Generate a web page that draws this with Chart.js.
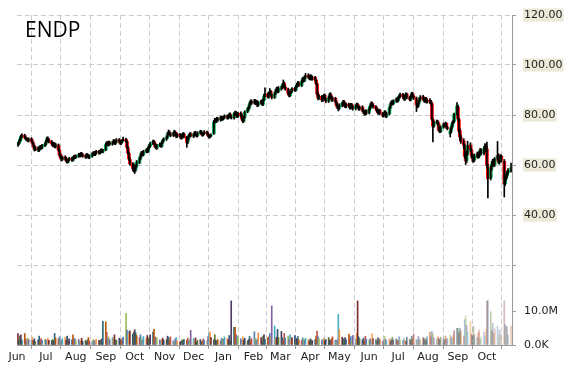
<!DOCTYPE html>
<html>
<head>
<meta charset="utf-8">
<title>ENDP</title>
<script src="https://cdn.jsdelivr.net/npm/chart.js@4.4.1/dist/chart.umd.min.js"></script>
<style>
    html, body { margin: 0; padding: 0; background: #fff; }
    #wrap { position: relative; width: 570px; height: 370px; }
    #title { position: absolute; left: 25px; top: 19px; font: 21px/21px "Open Sans", sans-serif; color: #000; }
</style>
</head>
<body>
<div id="wrap">
    <canvas id="chart" width="570" height="370"></canvas>
    <div id="title">ENDP</div>
</div>
<script>
// first and last trading day shown, and the ends of the time axis
const firstDay = Date.UTC(2014, 5, 2);
const lastDay = Date.UTC(2015, 9, 26);
const axisStart = Date.UTC(2014, 5, 1);
const axisEnd = Date.UTC(2015, 9, 27);

const monthLabels = ['Jun', 'Jul', 'Aug', 'Sep', 'Oct', 'Nov', 'Dec', 'Jan', 'Feb', 'Mar',
    'Apr', 'May', 'Jun', 'Jul', 'Aug', 'Sep', 'Oct'];
const priceTicks = [20, 40, 60, 80, 100, 120];
const volumeTicks = [0, 10];

const open = [
    68.0, 68.5, 69.4, 70.2, 71.6, 71.9, 70.8, 70.6, 70.3, 69.7, 70.5, 69.6, 68.6, 67.5, 66.1, 66.9, 65.8, 66.6, 67.4, 66.8, 67.7,
    68.4, 69.5, 70.7, 70.0, 69.3, 68.6, 67.7, 68.5, 67.2, 68.0, 65.9, 64.2, 63.1, 62.1, 63.2, 62.6, 61.9, 61.1, 62.1, 62.7, 61.8, 62.7, 63.5,
    63.1, 63.5, 64.3, 63.7, 64.6, 64.1, 63.6, 63.1, 64.2, 63.8, 62.9, 63.5, 64.3, 64.9, 64.1, 64.8, 65.5, 64.7, 65.4, 66.1, 65.2,
    66.0, 68.3, 68.9, 68.0, 69.1, 68.3, 69.0, 69.7, 68.6, 69.3, 70.1, 69.3, 68.7, 69.2, 69.9, 70.3, 69.4, 66.8, 64.6, 62.2, 60.3, 58.4,
    59.2, 58.1, 59.6, 61.0, 62.6, 63.7, 65.0, 64.1, 65.4, 66.1, 65.4, 66.9, 67.5, 68.6, 69.4, 68.6, 67.3, 66.8, 67.9, 68.3, 67.5, 69.0, 69.9,
    70.4, 71.1, 72.5, 73.2, 72.4, 71.9, 72.7, 73.2, 72.1, 71.3, 72.3, 71.5, 70.9, 72.0, 72.4, 71.1, 69.1, 70.7, 71.9, 72.5,
    71.5, 72.1, 72.9, 72.1, 71.7, 72.9, 73.3, 72.6, 72.0, 72.7, 73.2, 72.4, 71.7, 71.3, 71.7, 72.6, 77.3, 78.1, 77.4, 78.7, 78.0, 79.1, 78.3,
    78.7, 79.1, 79.7, 78.9, 79.5, 80.3, 79.2, 78.8, 80.5, 81.1, 80.1, 79.4, 80.7, 79.7, 78.5, 77.5, 79.1, 81.3, 82.3, 83.2, 84.4, 85.5,
    84.9, 85.7, 84.6, 85.4, 83.9, 84.9, 85.6, 84.2, 86.0, 87.7, 88.5, 87.1, 88.7, 89.5, 87.9, 87.0, 88.6, 89.7, 90.5, 89.4,
    90.5, 91.0, 91.7, 92.7, 91.1, 90.3, 88.7, 87.7, 89.0, 89.6, 90.6, 89.9, 91.3, 92.0, 92.9, 91.8, 93.5, 94.6, 93.7, 95.2, 95.9, 95.1,
    94.5, 95.5, 94.4, 95.1, 94.0, 92.5, 88.3, 86.7, 87.5, 85.9, 87.0, 87.9, 86.3, 85.5, 87.0, 88.3, 87.2, 86.0, 86.7, 85.3, 84.1, 83.0,
    82.7, 83.9, 84.5, 85.3, 83.9, 83.3, 84.4, 83.6, 82.8, 84.2, 83.1, 82.5, 83.6, 84.3, 83.3, 82.4, 83.2, 81.9, 81.1, 80.5, 81.6,
    80.9, 82.5, 83.7, 84.7, 83.9, 83.3, 82.4, 81.5, 80.8, 81.9, 80.5, 79.7, 80.6, 81.1, 79.5, 80.5, 82.9, 84.3, 85.2, 84.5, 85.6, 86.3,
    85.7, 86.9, 87.4, 88.3, 87.2, 86.3, 87.7, 88.4, 86.9, 86.1, 87.5, 88.6, 87.5, 86.7, 84.1, 83.7, 85.2, 86.4, 87.3, 86.3, 85.6, 86.6, 85.2,
    85.9, 85.3, 84.5, 78.2, 75.6, 77.1, 77.4, 76.4, 74.1, 73.4, 75.1, 76.3, 75.7, 76.7, 75.0, 72.6, 73.5, 75.1, 76.7, 77.4, 80.4,
    83.2, 78.2, 73.8, 71.0, 69.6, 67.8, 63.7, 61.8, 64.6, 68.0, 66.0, 63.9, 62.5, 62.0, 63.5, 64.5, 63.4, 64.9, 66.0, 64.6, 66.7, 67.6,
    66.4, 59.2, 54.8, 58.7, 60.2, 61.8, 60.0, 62.6, 63.9, 61.0, 62.4, 63.5, 61.5, 52.6, 54.5, 55.6, 57.0, 57.6
];

const high = [
    69.1, 69.8, 70.9, 72.0, 72.5, 72.3, 71.3, 71.0, 70.7, 70.9, 70.9, 70.0, 68.9, 67.9, 67.4, 67.3, 67.2, 67.9, 67.8, 68.3, 68.9,
    69.9, 71.2, 71.3, 70.5, 69.8, 69.0, 69.1, 68.9, 68.6, 68.4, 66.5, 64.6, 63.5, 63.6, 63.7, 63.0, 62.3, 62.4, 63.1, 63.2, 63.3, 63.9, 64.0,
    64.1, 64.7, 64.6, 65.0, 65.1, 64.5, 64.0, 64.6, 64.6, 64.2, 63.9, 64.9, 65.3, 65.4, 65.4, 65.9, 65.9, 65.9, 66.5, 66.5, 66.3,
    68.8, 69.4, 69.3, 69.6, 69.5, 69.4, 70.2, 70.1, 69.8, 70.6, 70.6, 69.8, 69.6, 70.3, 71.2, 70.8, 69.8, 67.5, 65.2, 62.9, 61.0, 60.6,
    59.6, 60.0, 61.8, 63.2, 64.5, 65.5, 65.4, 65.9, 66.5, 66.6, 67.4, 68.2, 69.2, 70.0, 69.9, 68.9, 67.7, 68.3, 68.8, 68.7, 69.4, 70.4, 70.9,
    71.6, 73.0, 74.0, 73.7, 72.9, 73.1, 73.9, 73.6, 72.5, 72.8, 72.7, 72.0, 72.4, 73.0, 72.9, 71.5, 71.1, 72.3, 72.9, 73.0,
    72.6, 73.4, 73.5, 72.6, 73.3, 73.9, 73.8, 73.1, 73.0, 73.8, 73.6, 72.9, 72.2, 72.1, 72.5, 77.8, 78.7, 78.5, 79.1, 79.0, 79.6, 79.5, 79.4,
    79.6, 80.1, 80.0, 79.9, 80.8, 80.8, 79.7, 80.9, 81.6, 81.5, 80.6, 81.1, 81.3, 80.2, 78.9, 79.5, 81.7, 82.9, 83.7, 85.0, 86.0, 86.1,
    86.3, 86.2, 85.9, 85.8, 85.3, 86.0, 86.1, 86.5, 88.3, 90.9, 88.9, 89.2, 90.6, 89.9, 88.4, 89.0, 90.3, 91.1, 91.2, 91.4,
    91.5, 92.4, 94.0, 93.2, 91.8, 90.8, 89.4, 89.5, 90.3, 91.0, 91.1, 91.8, 92.6, 93.4, 93.3, 94.0, 95.1, 95.0, 95.7, 96.7, 96.5, 95.6,
    96.2, 96.0, 95.6, 95.5, 94.4, 92.8, 89.0, 88.0, 87.9, 87.4, 88.4, 88.4, 86.8, 87.5, 88.8, 88.9, 87.7, 87.2, 87.1, 85.9, 84.6, 83.6,
    84.5, 85.1, 85.9, 85.8, 84.6, 84.9, 84.8, 84.1, 84.7, 84.6, 83.7, 84.0, 84.8, 84.7, 83.8, 83.6, 83.7, 82.5, 81.6, 82.0, 82.1,
    83.0, 84.2, 85.3, 85.2, 84.4, 83.8, 82.9, 82.0, 82.4, 82.3, 81.0, 81.0, 81.8, 81.6, 80.9, 83.4, 84.8, 85.7, 85.8, 86.1, 86.8, 86.9,
    87.4, 88.1, 88.8, 88.7, 87.7, 88.2, 88.9, 88.8, 87.4, 88.0, 89.1, 89.0, 88.0, 87.2, 84.6, 85.7, 86.9, 87.8, 87.9, 86.8, 87.0, 87.1, 86.4,
    86.6, 85.9, 85.0, 78.6, 77.6, 78.0, 77.9, 76.8, 74.9, 75.6, 76.8, 76.7, 77.2, 76.9, 75.5, 74.4, 75.7, 77.3, 77.9, 80.8, 85.0,
    84.0, 78.9, 74.5, 71.9, 70.5, 68.4, 64.6, 65.6, 69.5, 68.9, 66.6, 64.5, 63.3, 64.4, 65.2, 65.0, 65.6, 66.7, 66.5, 67.4, 68.6, 68.2,
    69.2, 60.4, 59.6, 61.5, 62.3, 62.4, 63.0, 69.4, 64.5, 63.3, 64.2, 64.0, 62.2, 55.8, 56.8, 57.6, 58.6, 60.8
];

const low = [
    67.4, 68.1, 69.0, 69.8, 71.0, 70.6, 70.0, 69.7, 69.3, 69.2, 69.1, 68.3, 67.0, 65.6, 65.7, 65.4, 65.4, 66.2, 66.3, 66.4, 67.3,
    68.0, 69.1, 69.6, 68.8, 68.1, 67.3, 67.3, 66.9, 66.8, 65.5, 63.6, 62.5, 61.6, 61.8, 62.0, 61.2, 60.7, 60.8, 61.7, 61.4, 61.5, 62.3, 62.5,
    62.6, 63.0, 63.3, 63.2, 63.6, 63.1, 62.7, 62.7, 63.3, 62.6, 62.5, 63.1, 63.9, 63.8, 63.7, 64.3, 64.3, 64.3, 65.0, 64.9, 64.8,
    65.7, 67.8, 67.6, 67.6, 67.9, 67.9, 68.6, 68.3, 68.1, 68.9, 69.0, 68.2, 68.2, 68.8, 69.6, 69.0, 66.5, 64.2, 61.8, 59.8, 57.6, 57.2,
    56.6, 57.4, 59.1, 60.5, 62.1, 63.2, 63.8, 63.6, 64.9, 64.9, 65.0, 66.4, 67.1, 68.1, 68.2, 67.0, 66.4, 66.2, 67.4, 67.1, 67.1, 68.5, 69.4,
    69.8, 70.6, 72.0, 72.0, 71.3, 71.4, 72.2, 71.6, 70.9, 71.0, 71.1, 70.3, 70.4, 71.5, 70.8, 67.1, 68.5, 70.2, 71.4, 71.2,
    70.9, 71.6, 71.8, 71.2, 71.2, 72.4, 72.3, 71.5, 71.6, 72.2, 72.1, 71.3, 70.7, 70.8, 71.2, 72.2, 76.8, 77.0, 77.0, 77.6, 77.5, 77.9, 77.8,
    78.1, 78.6, 78.3, 78.4, 79.0, 78.8, 78.4, 78.3, 80.0, 79.7, 78.9, 79.0, 79.3, 77.9, 76.9, 77.1, 78.7, 80.9, 81.8, 82.7, 84.0, 84.2,
    84.4, 84.2, 84.1, 83.3, 83.5, 84.4, 83.8, 83.7, 85.6, 87.3, 86.8, 86.7, 88.2, 87.6, 86.4, 86.6, 88.1, 89.2, 88.9, 88.9,
    89.9, 90.5, 91.2, 90.8, 89.9, 88.1, 87.2, 87.3, 88.5, 89.1, 89.4, 89.5, 90.8, 91.5, 91.4, 91.3, 93.0, 93.2, 93.3, 94.7, 94.8, 94.1,
    94.0, 94.0, 93.9, 93.6, 92.1, 87.9, 86.0, 86.2, 85.3, 85.4, 86.5, 85.9, 84.9, 85.0, 86.4, 86.7, 85.5, 85.4, 84.8, 83.5, 82.5, 81.6,
    82.2, 83.3, 84.0, 83.5, 82.9, 82.8, 83.1, 82.3, 82.3, 82.7, 81.9, 82.0, 83.1, 82.8, 81.9, 81.9, 81.4, 80.6, 79.9, 80.0, 80.1,
    80.4, 82.0, 83.2, 83.5, 82.7, 82.0, 81.1, 80.3, 80.2, 80.2, 79.2, 79.2, 80.1, 79.1, 78.9, 80.0, 82.4, 83.8, 84.1, 84.0, 85.1, 85.1,
    85.2, 86.4, 86.8, 86.7, 85.9, 85.8, 87.1, 86.5, 85.7, 85.6, 86.9, 87.0, 86.2, 81.4, 82.9, 83.1, 84.7, 85.9, 85.9, 85.1, 85.0, 84.8, 84.7,
    84.6, 84.0, 77.8, 69.2, 75.0, 76.5, 75.8, 73.5, 72.9, 73.0, 74.7, 75.2, 75.4, 74.6, 74.0, 71.2, 72.9, 74.6, 76.2, 76.9, 80.0,
    77.6, 72.8, 69.8, 68.6, 66.5, 62.6, 60.2, 61.0, 64.0, 65.5, 63.0, 61.4, 61.0, 61.4, 62.8, 62.7, 62.9, 64.2, 63.9, 64.0, 66.0, 65.1,
    58.6, 46.8, 54.0, 57.8, 59.5, 59.6, 59.4, 61.9, 60.6, 60.3, 61.6, 61.2, 47.2, 51.8, 54.0, 55.1, 56.3, 57.1
];

const close = [
    68.6, 69.3, 70.4, 71.5, 71.8, 71.0, 70.5, 70.2, 69.8, 70.4, 69.5, 68.7, 67.4, 66.2, 66.8, 65.9, 66.7, 67.3, 66.9, 67.8, 68.3,
    69.4, 70.6, 70.1, 69.2, 68.5, 67.8, 68.6, 67.3, 68.1, 66.0, 64.1, 63.0, 62.2, 63.1, 62.5, 61.8, 61.2, 62.0, 62.6, 61.9, 62.8, 63.4, 63.0,
    63.6, 64.2, 63.8, 64.5, 64.0, 63.5, 63.2, 64.1, 63.7, 63.0, 63.4, 64.4, 64.8, 64.2, 64.9, 65.4, 64.8, 65.5, 66.0, 65.3, 65.8,
    68.2, 68.8, 68.1, 69.0, 68.4, 68.9, 69.6, 68.7, 69.2, 70.0, 69.4, 68.6, 69.1, 69.8, 70.2, 69.5, 67.0, 64.8, 62.4, 60.5, 58.6, 59.4,
    58.0, 59.5, 61.2, 62.5, 63.8, 64.9, 64.2, 65.3, 66.0, 65.5, 66.8, 67.6, 68.5, 69.3, 68.7, 67.4, 66.9, 67.8, 68.2, 67.6, 68.9, 69.8, 70.3,
    71.0, 72.4, 73.1, 72.5, 71.8, 72.6, 73.3, 72.0, 71.4, 72.2, 71.6, 70.8, 71.9, 72.5, 71.2, 69.0, 70.6, 71.8, 72.4, 71.7,
    72.0, 72.8, 72.2, 71.6, 72.8, 73.4, 72.7, 71.9, 72.6, 73.3, 72.5, 71.8, 71.2, 71.6, 72.0, 77.2, 78.0, 77.5, 78.6, 78.1, 79.0, 78.4, 78.9,
    79.0, 79.6, 78.8, 79.4, 80.2, 79.3, 78.9, 80.4, 81.0, 80.2, 79.5, 80.6, 79.8, 78.4, 77.6, 79.0, 81.2, 82.4, 83.1, 84.5, 85.4, 84.8,
    85.6, 84.7, 85.3, 84.0, 84.8, 85.5, 84.3, 85.9, 87.6, 88.4, 87.2, 88.6, 89.4, 88.0, 87.1, 88.5, 89.6, 90.4, 89.5, 90.6,
    90.9, 91.8, 92.6, 91.2, 90.4, 88.6, 87.8, 88.9, 89.7, 90.5, 90.0, 91.2, 92.1, 92.8, 91.9, 93.4, 94.5, 93.8, 95.1, 95.8, 95.2, 94.6,
    95.4, 94.5, 95.0, 94.1, 92.6, 88.4, 86.8, 87.4, 86.0, 86.9, 87.8, 86.4, 85.6, 86.9, 88.2, 87.3, 86.1, 86.6, 85.4, 84.0, 83.1, 82.6,
    83.8, 84.6, 85.2, 84.0, 83.4, 84.3, 83.7, 82.9, 84.1, 83.2, 82.6, 83.5, 84.2, 83.4, 82.5, 83.1, 82.0, 81.2, 80.6, 81.5, 80.8,
    82.4, 83.6, 84.6, 84.0, 83.2, 82.5, 81.6, 80.9, 81.8, 80.6, 79.8, 80.5, 81.2, 79.6, 80.4, 82.8, 84.2, 85.1, 84.6, 85.5, 86.2, 85.6,
    86.8, 87.5, 88.2, 87.3, 86.4, 87.6, 88.3, 87.0, 86.2, 87.4, 88.5, 87.6, 86.8, 84.2, 83.6, 85.1, 86.3, 87.2, 86.4, 85.7, 86.5, 85.3, 85.8,
    85.2, 84.6, 78.4, 75.5, 77.0, 77.3, 76.5, 74.0, 73.5, 75.0, 76.2, 75.8, 76.6, 75.1, 74.6, 73.4, 75.0, 76.6, 77.2, 80.3, 83.6,
    78.4, 73.6, 71.2, 69.5, 68.0, 63.5, 61.6, 64.8, 67.9, 66.2, 63.8, 62.6, 61.9, 63.6, 64.4, 63.5, 64.8, 65.9, 64.7, 66.6, 67.5, 66.0,
    59.8, 54.5, 58.6, 60.4, 61.6, 60.2, 62.4, 63.8, 61.2, 62.6, 63.3, 61.9, 52.4, 54.6, 55.8, 56.9, 57.8, 58.9
];

// volume in millions of shares
const volume = [
    3.4, 1.2, 2.6, 3.0, 1.5, 3.4, 1.8, 1.1, 2.0, 1.6, 1.4, 2.2, 1.3, 1.8, 1.0, 1.5, 2.6, 1.2, 1.9, 1.4, 1.7,
    1.5, 1.1, 2.0, 1.4, 1.3, 1.6, 1.2, 3.4, 2.1, 1.8, 2.4, 1.5, 1.3, 1.9, 2.3, 1.4, 2.6, 1.2, 1.8, 1.5, 3.0, 1.6, 1.9,
    1.3, 1.6, 1.0, 1.2, 2.0, 1.1, 1.4, 0.9, 1.5, 2.2, 1.2, 1.0, 1.6, 1.3, 1.1, 1.7, 1.4, 1.2, 1.5, 1.8, 7.0,
    6.8, 3.7, 2.0, 2.4, 1.6, 2.2, 1.8, 3.0, 1.5, 1.4, 2.0, 1.6, 1.3, 1.9, 2.3, 9.3, 4.4, 4.0, 3.4, 4.2, 3.2, 3.8,
    4.5, 3.6, 2.8, 2.2, 3.0, 1.8, 1.4, 2.5, 2.0, 2.8, 1.6, 2.2, 3.0, 3.8, 4.6, 2.4, 1.8, 2.2, 1.5, 1.2, 1.6, 2.0, 1.4,
    1.6, 2.6, 2.2, 1.4, 2.4, 1.2, 1.0, 1.8, 2.2, 1.3, 1.0, 0.9, 1.5, 1.2, 1.7, 1.4, 2.0, 1.1, 1.6, 4.3,
    1.9, 1.2, 2.1, 0.9, 1.4, 1.6, 1.1, 1.0, 1.8, 1.4, 1.2, 2.5, 3.6, 3.9, 2.2, 1.5, 3.0, 1.4, 1.1, 1.6, 1.2, 2.0, 1.8,
    1.7, 2.4, 2.0, 1.5, 2.8, 1.2, 13.0, 5.2, 5.2, 3.1, 2.6, 2.2, 1.8, 1.5, 2.4, 1.4, 2.0, 1.2, 1.6, 2.5, 1.3, 1.9,
    3.9, 2.0, 1.4, 1.8, 3.6, 2.2, 1.3, 2.6, 3.0, 1.6, 2.1, 2.4, 3.4, 2.5, 11.5, 5.6, 1.8, 2.3, 4.6, 2.2,
    4.0, 2.2, 1.6, 3.4, 2.0, 2.6, 1.8, 3.0, 1.5, 2.2, 2.8, 1.4, 1.9, 2.5, 1.6, 1.3, 2.1, 1.7, 1.4, 2.0, 1.6, 1.2,
    1.8, 1.5, 1.3, 1.6, 2.6, 4.1, 2.4, 1.9, 1.4, 1.7, 2.0, 1.3, 1.6, 2.2, 1.5, 1.2, 1.8, 2.4, 1.4, 1.1, 1.6, 9.0,
    4.5, 2.3, 1.8, 1.4, 2.2, 1.6, 3.2, 1.9, 2.5, 1.4, 2.8, 1.6, 3.4, 13.0, 2.4, 1.8, 1.5, 2.0, 1.3, 2.6, 1.7,
    1.4, 1.8, 1.2, 3.4, 2.0, 1.6, 1.3, 2.2, 1.5, 1.8, 1.1, 1.4, 2.6, 1.7, 1.3, 1.9, 1.2, 1.6, 2.3, 1.5, 1.8, 1.4,
    1.2, 2.4, 1.6, 1.3, 2.0, 1.5, 1.1, 2.3, 1.7, 1.4, 2.6, 1.9, 3.3, 1.6, 1.2, 2.5, 1.8, 1.4, 2.2, 1.6, 1.9, 1.3, 2.4,
    3.7, 2.4, 4.0, 3.2, 2.2, 1.8, 2.6, 2.0, 1.5, 2.3, 1.8, 1.4, 2.6, 1.7, 2.0, 3.0, 2.4, 1.9, 2.8, 4.2, 4.9,
    4.9, 3.6, 5.0, 4.2, 2.6, 7.5, 8.6, 5.8, 4.0, 6.9, 3.2, 2.5, 5.6, 3.0, 2.2, 3.6, 4.4, 1.8, 2.4, 3.8, 2.6, 4.6,
    13.0, 13.0, 9.8, 4.2, 6.4, 3.4, 4.8, 5.6, 3.0, 4.5, 3.6, 2.8, 13.0, 6.0, 5.4, 5.4, 3.0, 5.6
];

const UP = '#00b050';
const DOWN = '#ff0000';
const volumePalette = ['#7b2c2a', '#2c4d75', '#5f7530', '#4d3b62', '#276a7c', '#b65708',
    '#c0504d', '#4f81bd', '#9bbb59', '#8064a2', '#4bacc6', '#f79646'];

const DAY = 86400000;
const dayNo = (t) => (t - axisStart) / DAY;

// every weekday between the first and the last day
const days = [];
for (let t = firstDay; t <= lastDay; t += DAY) {
    const wd = new Date(t).getUTCDay();
    if (wd !== 0 && wd !== 6) {
        days.push(dayNo(t));
    }
}
const monthStarts = monthLabels.map((m, i) => dayNo(Date.UTC(2014, 5 + i, 1)));

function withAlpha(hex, a) {
    const r = parseInt(hex.slice(1, 3), 16);
    const g = parseInt(hex.slice(3, 5), 16);
    const b = parseInt(hex.slice(5, 7), 16);
    return 'rgba(' + r + ',' + g + ',' + b + ',' + a.toFixed(2) + ')';
}

const n = Math.min(days.length, open.length, high.length, low.length, close.length, volume.length);
const wicks = [], bodies = [], vols = [];
const bodyColors = [], volumeColors = [];
const fadeFrom = 262;
for (let i = 0; i < n; i++) {
    wicks.push({x: days[i], y: [Math.min(low[i], open[i], close[i]), Math.max(high[i], open[i], close[i])]});
    bodies.push({x: days[i], y: [open[i], close[i]]});
    vols.push({x: days[i], y: volume[i]});
    bodyColors.push(close[i] >= open[i] ? UP : DOWN);
    const a = i < fadeFrom ? 1 : 0.8 - 0.5 * (i - fadeFrom) / (n - 1 - fadeFrom);
    volumeColors.push(withAlpha(volumePalette[i % volumePalette.length], a));
}

Chart.defaults.font.family = '"DejaVu Sans", sans-serif';
Chart.defaults.font.size = 11;

const gridColor = '#cccccc';
const axisColor = '#999999';
const labelColor = '#222222';

new Chart(document.getElementById('chart'), {
    type: 'bar',
    data: {
        datasets: [
            {label: 'wick', data: wicks, backgroundColor: '#000000', barThickness: 1, order: 0, yAxisID: 'y'},
            {label: 'body', data: bodies, backgroundColor: bodyColors, barThickness: 3, order: 1, yAxisID: 'y'},
            {label: 'volume', data: vols, backgroundColor: volumeColors, barThickness: 1, order: 2, yAxisID: 'yv'}
        ]
    },
    options: {
        responsive: false,
        animation: false,
        events: [],
        layout: {padding: {left: 17, top: 15, right: 0, bottom: 0}},
        datasets: {bar: {grouped: false}},
        plugins: {
            legend: {display: false},
            tooltip: {enabled: false},
            title: {display: false}
        },
        scales: {
            x: {
                type: 'linear',
                min: 0,
                max: dayNo(axisEnd),
                offset: false,
                afterBuildTicks: (scale) => {
                    scale.ticks = monthStarts.map(v => ({value: v}));
                },
                afterFit: (scale) => {
                    scale.height = 25;
                },
                grid: {color: gridColor, tickColor: axisColor, tickLength: 4},
                border: {display: true, color: axisColor, dash: [5, 3]},
                ticks: {
                    autoSkip: false,
                    maxRotation: 0,
                    padding: 2,
                    color: labelColor,
                    callback: (value, index) => monthLabels[index]
                }
            },
            y: {
                type: 'linear',
                position: 'right',
                stack: 'right',
                stackWeight: 5,
                min: 10,
                max: 120,
                afterBuildTicks: (scale) => {
                    scale.ticks = priceTicks.map(v => ({value: v}));
                },
                afterFit: (scale) => {
                    scale.width = 58;
                },
                grid: {color: gridColor, tickColor: axisColor, tickLength: 4},
                border: {color: axisColor, dash: [5, 3]},
                ticks: {
                    padding: 8,
                    color: labelColor,
                    callback: (value) => value >= 40 ? value.toFixed(2) : '',
                    showLabelBackdrop: (ctx) => !!ctx.tick && ctx.tick.value >= 40,
                    backdropColor: '#ece9d8',
                    backdropPadding: {left: 1, right: 1, top: 0, bottom: 0}
                }
            },
            yv: {
                type: 'linear',
                position: 'right',
                stack: 'right',
                stackWeight: 1,
                min: 0,
                max: 16.2,
                afterBuildTicks: (scale) => {
                    scale.ticks = volumeTicks.map(v => ({value: v}));
                },
                afterFit: (scale) => {
                    scale.width = 58;
                },
                grid: {drawOnChartArea: false, tickColor: axisColor, tickLength: 4},
                border: {color: axisColor},
                ticks: {
                    padding: 8,
                    color: labelColor,
                    callback: (value) => value === 0 ? '0.0K' : value.toFixed(1) + 'M'
                }
            }
        }
    }
});
</script>
</body>
</html>
